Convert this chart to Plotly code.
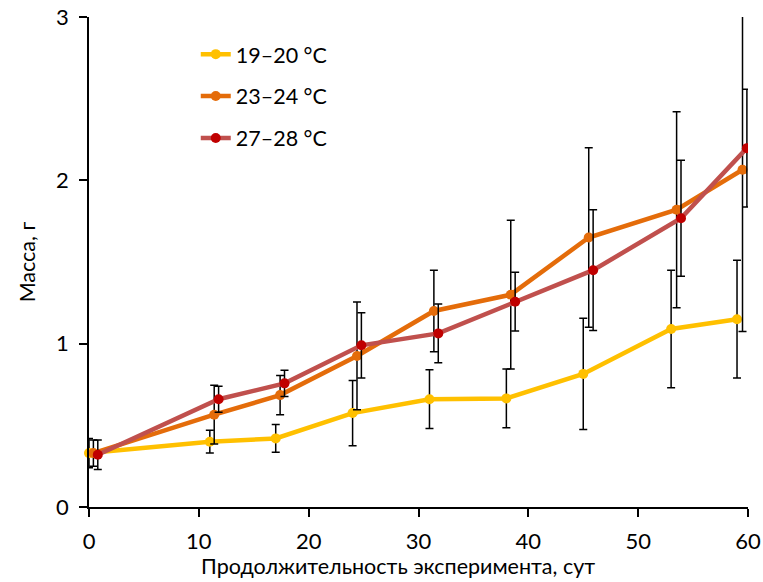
import plotly.graph_objects as go

# Days (points of each series are slightly offset in the original chart)
x_1920 = [0, 11, 17, 24, 31, 38, 45, 53, 59]
y_1920 = [0.33, 0.40, 0.42, 0.575, 0.66, 0.665, 0.815, 1.09, 1.15]
e_1920 = [0.09, 0.07, 0.085, 0.2, 0.18, 0.18, 0.34, 0.36, 0.36]

x_2324 = [0.4, 11.4, 17.4, 24.4, 31.4, 38.4, 45.5, 53.5, 59.5]
y_2324 = [0.33, 0.565, 0.685, 0.925, 1.20, 1.30, 1.65, 1.82, 2.065]
e_2324 = [0.08, 0.18, 0.12, 0.33, 0.25, 0.455, 0.55, 0.6, 0.99]

x_2728 = [0.8, 11.8, 17.8, 24.8, 31.8, 38.8, 45.9, 53.9, 59.9]
y_2728 = [0.32, 0.66, 0.757, 0.99, 1.063, 1.257, 1.45, 1.768, 2.197]
e_2728 = [0.09, 0.08, 0.08, 0.2, 0.18, 0.18, 0.37, 0.355, 0.36]

names = ["19–20 °C", "23–24 °C", "27–28 °C"]
x_title = "Продолжительность эксперимента, сут"
y_title = "Масса, г"
FONT = "Lato, 'Open Sans', sans-serif"

fig = go.Figure()

def add(x, y, e, name, lc, mc, clip, grp):
    fig.add_trace(go.Scatter(
        x=x, y=y, name=name, mode="lines+markers",
        legendgroup=grp,
        line=dict(color=lc, width=4.5),
        marker=dict(color=mc, size=10, line=dict(width=0)),
        error_y=dict(type="data", array=e, visible=True, color="black",
                     thickness=1.5, width=4),
        cliponaxis=clip,
    ))

add(x_1920, y_1920, e_1920, names[0], "#FFC000", "#FFC000", False, "a")
add(x_2324, y_2324, e_2324, names[1], "#E46C0A", "#E46C0A", True, "b")
add(x_2728, y_2728, e_2728, names[2], "#C0504D", "#C00000", True, "c")

fig.update_layout(
    width=763, height=582,
    margin=dict(l=89, r=15, t=17, b=75, autoexpand=False),
    paper_bgcolor="white", plot_bgcolor="white",
    font=dict(family=FONT, size=22, color="black"),
    showlegend=True,
    legend=dict(x=0.162, y=0.966, xanchor="left", yanchor="top",
                bgcolor="rgba(0,0,0,0)", font=dict(size=21.5),
                tracegroupgap=11),
    xaxis=dict(range=[0, 60], tickvals=[0, 10, 20, 30, 40, 50, 60],
               automargin=False,
               showline=True, linecolor="black", linewidth=1.5,
               ticks="outside", ticklen=8, tickcolor="black", tickwidth=1.5,
               ticklabelstandoff=6,
               showgrid=False, zeroline=False),
    yaxis=dict(range=[0, 3], tickvals=[0, 1, 2, 3],
               automargin=False,
               showline=True, linecolor="black", linewidth=1.5,
               ticks="outside", ticklen=8, tickcolor="black", tickwidth=1.5,
               ticklabelstandoff=6,
               showgrid=False, zeroline=False,
               title=dict(text=y_title, font=dict(size=21.5), standoff=15)),
    annotations=[dict(text=x_title, xref="paper", yref="paper",
                      x=0.469, y=-0.12, xanchor="center", yanchor="middle",
                      showarrow=False, font=dict(size=21.5))],
)

fig.write_html("out.html")
